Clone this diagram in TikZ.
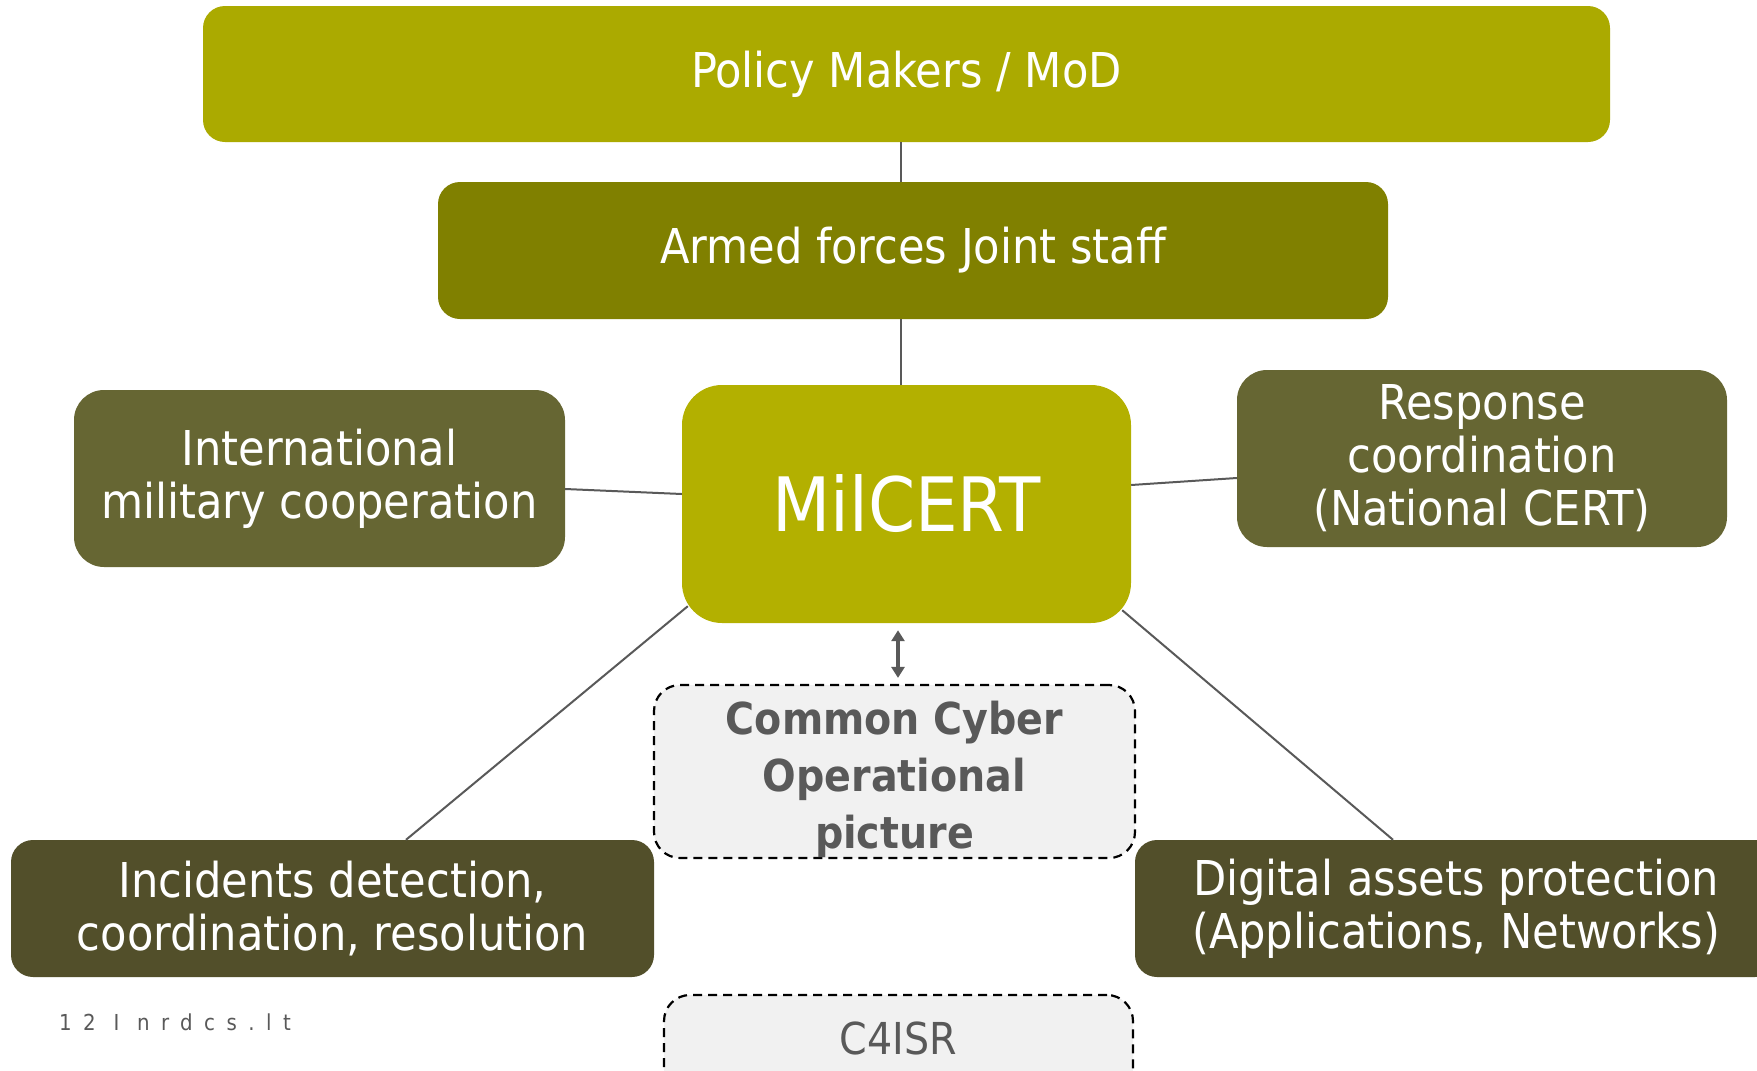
\documentclass[tikz,border=0pt]{standalone}
\usepackage{fontspec}
\setmainfont{DejaVu Sans Condensed}
\usetikzlibrary{arrows.meta,calc}
\definecolor{polcol}{HTML}{ABAA00}
\definecolor{armcol}{HTML}{808000}
\definecolor{milcol}{HTML}{B3B000}
\definecolor{sidecol}{HTML}{666633}
\definecolor{botcol}{HTML}{524F2A}
\definecolor{linecol}{HTML}{595959}
\definecolor{boxgray}{HTML}{F1F1F1}
\tikzset{
  base/.style={rectangle, inner sep=0pt, align=center, text=white},
  topbox/.style={base, rounded corners=22pt, font=\fontsize{48}{53}\selectfont},
  sidebox/.style={base, fill=sidecol, rounded corners=30pt, font=\fontsize{48}{53}\selectfont},
  botbox/.style={base, fill=botcol, rounded corners=22pt, font=\fontsize{48}{53}\selectfont},
  dashbox/.style={base, draw=black, dashed, line width=2.2pt, dash pattern=on 9pt off 6pt, fill=boxgray, text=linecol, rounded corners=26pt},
  conn/.style={draw=linecol, line width=2pt},
}
\begin{document}
\begin{tikzpicture}[x=1pt,y=-1pt]
\useasboundingbox (0,0) rectangle (1757,1071);
\node[topbox, fill=polcol, minimum width=1407, minimum height=136] (pol) at (906.5,74) {Policy Makers / MoD};
\node[topbox, fill=armcol, minimum width=950, minimum height=137] (arm) at (913,250.5) {Armed forces Joint staff};
\node[base, fill=milcol, rounded corners=40pt, minimum width=449, minimum height=238, font=\fontsize{75}{90}\selectfont] (mil) at (906.5,504) {MilCERT};
\node[sidebox, minimum width=491, minimum height=177] (intl) at (319.5,478.5) {International\\military cooperation};
\node[sidebox, minimum width=490, minimum height=177] (resp) at (1482,458.5) {Response\\coordination\\(National CERT)};
\node[botbox, minimum width=643, minimum height=137] (inc) at (332.5,908.5) {Incidents detection,\\coordination, resolution};
\node[botbox, minimum width=642, minimum height=137] (dig) at (1456,908.5) {Digital assets protection\\(Applications, Networks)};
\node[dashbox, minimum width=481, minimum height=173] (ccop) at (894.5,771.5) {};
\node[base, text=linecol, font=\bfseries\fontsize{44}{57}\selectfont] (ccoptext) at ($(ccop.center)+(0,8)$) {Common Cyber\\Operational\\picture};
\node[dashbox, minimum width=469, minimum height=100, font=\fontsize{44}{52}\selectfont] (c4) at (898.5,1045) {\raisebox{14pt}{C4ISR}};
\node[anchor=west, text=linecol, inner sep=0pt, font=\fontsize{22}{26}\selectfont\addfontfeature{LetterSpace=52}] (foot) at (59,1022) {12 I nrdcs.lt};
\draw[conn] (pol.south -| 901,0) -- (arm.north -| 901,0);
\draw[conn] (arm.south -| 901,0) -- (mil.north -| 901,0);
\draw[conn] (intl.east |- 0,489) -- (mil.west |- 0,494);
\draw[conn] (resp.west |- 0,478) -- (mil.east |- 0,485);
\draw[conn] ($(mil.south west)+(6,-17)$) -- (inc.north -| 406,0);
\draw[conn] ($(mil.south east)+(-9,-13)$) -- (dig.north -| 1393,0);
\draw[draw=linecol, line width=4pt, {Triangle[width=13pt,length=11pt]}-{Triangle[width=13pt,length=11pt]}, fill=linecol] ($(mil.south -| 898,0)+(0,7)$) -- ($(ccop.north -| 898,0)+(0,-6)$);
\end{tikzpicture}
\end{document}
